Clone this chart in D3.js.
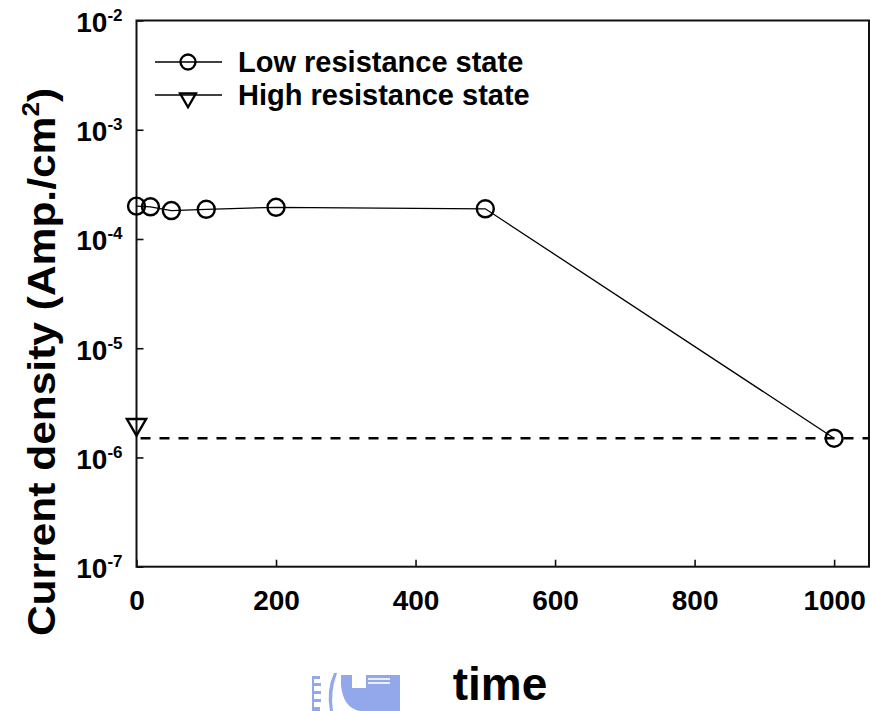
<!DOCTYPE html>
<html>
<head>
<meta charset="utf-8">
<script src="https://cdn.jsdelivr.net/npm/d3@7"></script>
<style>
  html, body { margin: 0; padding: 0; background: #fff; }
  svg { display: block; }
  text { font-family: "Liberation Sans", Arial, Helvetica, sans-serif; font-weight: bold; fill: #000; }
</style>
</head>
<body>
<svg id="chart" width="871" height="711"></svg>
<script>
// Retention data: current density vs. time
const lowTime = [0, 20, 50, 100, 200, 500, 1000];
const lowCurrent = [2.0e-4, 1.97e-4, 1.82e-4, 1.87e-4, 1.95e-4, 1.89e-4, 1.5e-6];
const highTime = [0];
const highCurrent = [2.0e-6];
const floorLevel = 1.5e-6;

const xTicks = [0, 200, 400, 600, 800, 1000];
const yExponents = [-7, -6, -5, -4, -3, -2];
const seriesNames = ["Low resistance state", "High resistance state"];
const xTitle = "time";
const yTitle = "Current density (Amp./cm";

const svg = d3.select("#chart");
const plotLeft = 136.5, plotRight = 869, plotTop = 20.5, plotBottom = 566.7;

const x = d3.scaleLinear().domain([0, 1050]).range([plotLeft, plotRight]);
const y = d3.scaleLog().domain([1e-7, 1e-2]).range([plotBottom, plotTop]);

// x axis with inward ticks
const xAxis = svg.append("g")
  .attr("transform", `translate(0,${plotBottom})`)
  .call(d3.axisBottom(x).tickValues(xTicks).tickSize(-7).tickPadding(14).tickFormat(d3.format("d")));
xAxis.select(".domain").remove();
xAxis.selectAll(".tick line").attr("stroke", "#111").attr("stroke-width", 1.6);
xAxis.selectAll(".tick text")
  .attr("dy", null).attr("y", 43)
  .style("font-size", "28px").attr("fill", "#000");

// y axis (log) with inward ticks and 10^n labels
const yAxis = svg.append("g")
  .attr("transform", `translate(${plotLeft},0)`)
  .call(d3.axisLeft(y).tickValues(yExponents.map(e => Math.pow(10, e))).tickSize(-7).tickFormat(() => ""));
yAxis.select(".domain").remove();
yAxis.selectAll(".tick line").attr("stroke", "#111").attr("stroke-width", 1.6);
yAxis.selectAll(".tick").each(function (d, i) {
  const g = d3.select(this);
  g.select("text").remove();
  const t = g.append("text")
    .attr("x", -14).attr("y", 11)
    .attr("text-anchor", "end");
  t.append("tspan").style("font-size", "28px").text("10");
  t.append("tspan").attr("dy", -11).style("font-size", "17px").text(String(yExponents[i]));
});

// plot frame
svg.append("rect")
  .attr("x", plotLeft).attr("y", plotTop)
  .attr("width", plotRight - plotLeft).attr("height", plotBottom - plotTop)
  .attr("fill", "none").attr("stroke", "#111").attr("stroke-width", 2);

// dashed floor level
svg.append("line")
  .attr("x1", x(0)).attr("x2", plotRight)
  .attr("y1", y(floorLevel)).attr("y2", y(floorLevel))
  .attr("stroke", "#000").attr("stroke-width", 2.6)
  .attr("stroke-dasharray", "10,9").attr("stroke-dashoffset", -4);

// low resistance series
const lowData = lowTime.map((t, i) => [t, lowCurrent[i]]);
svg.append("path")
  .datum(lowData)
  .attr("fill", "none").attr("stroke", "#000").attr("stroke-width", 1.3)
  .attr("d", d3.line().x(d => x(d[0])).y(d => y(d[1])));
svg.selectAll("circle.low")
  .data(lowData).join("circle")
  .attr("class", "low")
  .attr("cx", d => x(d[0])).attr("cy", d => y(d[1]))
  .attr("r", 8.5).attr("fill", "none").attr("stroke", "#000").attr("stroke-width", 2.4);

// high resistance series
const tri = d3.symbol().type(d3.symbolTriangle).size(160);
const highData = highTime.map((t, i) => [t, highCurrent[i]]);
svg.selectAll("path.high")
  .data(highData).join("path")
  .attr("class", "high")
  .attr("d", tri)
  .attr("transform", d => `translate(${x(d[0])},${y(d[1])}) rotate(180)`)
  .attr("fill", "none").attr("stroke", "#000").attr("stroke-width", 2.4);

// legend
const legend = svg.append("g");
const rows = [62, 95];
seriesNames.forEach((name, i) => {
  const row = legend.append("g").attr("transform", `translate(0,${rows[i]})`);
  row.append("line").attr("x1", 155).attr("x2", 222).attr("y1", 0).attr("y2", 0)
    .attr("stroke", "#000").attr("stroke-width", 1.5);
  if (i === 0) {
    row.append("circle").attr("cx", 188).attr("cy", 0).attr("r", 7.5)
      .attr("fill", "none").attr("stroke", "#000").attr("stroke-width", 2.3);
  } else {
    row.append("path").attr("d", d3.symbol().type(d3.symbolTriangle).size(110))
      .attr("transform", "translate(188,3) rotate(180)")
      .attr("fill", "none").attr("stroke", "#000").attr("stroke-width", 2.3);
  }
  row.append("text").attr("x", 238).attr("y", 10)
    .style("font-size", "29px")
    .text(name);
});

// y axis title (slightly elongated along its reading direction)
const yt = svg.append("text")
  .attr("transform", "translate(55,362) rotate(-90) scale(1.09,1)")
  .attr("text-anchor", "middle")
  .style("font-size", "39px");
yt.append("tspan").text(yTitle);
yt.append("tspan").attr("dy", -16).style("font-size", "24px").text("2");
yt.append("tspan").attr("dy", 16).text(")");

// x axis title
svg.append("text")
  .attr("x", 500).attr("y", 700)
  .attr("text-anchor", "middle")
  .style("font-size", "46px")
  .text(xTitle);

// emblem beside the axis title
const logo = svg.append("g").attr("fill", "#93a8ea");
logo.append("path").attr("d", "M312,676 h8 v3 h-6 v4 h7 v3 h-7 v5 h7 v3 h-7 v5 h7 v3 h-7 v5 h6 v4 h-8 z");
logo.append("path").attr("d", "M334,673 Q326,690 330,711 h3 Q330,692 337,673 z");
logo.append("path").attr("d", "M341,675 v10 Q343,708 360,711 H400 V675 H392 V688 H352 V675 z");
logo.append("rect").attr("x", 366).attr("y", 675).attr("width", 26).attr("height", 13);
logo.append("rect").attr("x", 368).attr("y", 678).attr("width", 22).attr("height", 2).attr("fill", "#e9eefc");
logo.append("rect").attr("x", 368).attr("y", 682).attr("width", 22).attr("height", 2).attr("fill", "#e9eefc");
</script>
</body>
</html>
